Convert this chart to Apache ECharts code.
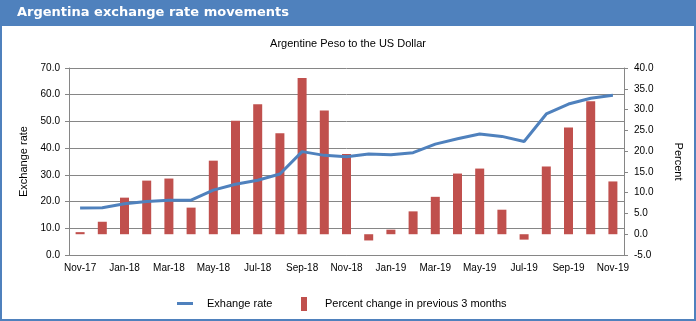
<!DOCTYPE html>
<html>
<head>
<meta charset="utf-8">
<script src="https://cdn.jsdelivr.net/npm/echarts@6/dist/echarts.min.js"></script>
<style>
html,body{margin:0;padding:0;background:#fff;}
#chart{width:696px;height:321px;}
</style>
</head>
<body>
<div id="chart"></div>
<script>
const categories = ['Nov-17','Dec-17','Jan-18','Feb-18','Mar-18','Apr-18','May-18','Jun-18','Jul-18','Aug-18','Sep-18','Oct-18','Nov-18','Dec-18','Jan-19','Feb-19','Mar-19','Apr-19','May-19','Jun-19','Jul-19','Aug-19','Sep-19','Oct-19','Nov-19'];
const exchangeRate = [17.6,17.7,19.2,20.0,20.5,20.5,24.3,26.5,28.0,30.3,38.7,37.3,36.8,37.8,37.5,38.3,41.5,43.5,45.3,44.4,42.5,52.8,56.5,58.7,59.8];
const percentChange = [0.5,3.0,8.8,12.9,13.4,6.4,17.7,27.3,31.3,24.3,37.6,29.8,19.3,-1.5,1.1,5.5,9.0,14.6,15.8,5.9,-1.3,16.3,25.7,32.0,12.7];
const leftTicks = {min:0, max:70, interval:10};
const rightTicks = {min:-5, max:40, interval:5};

const chart = echarts.init(document.getElementById('chart'), null, {renderer:'canvas'});
const font = 'Liberation Sans';
const axisGrey = '#868686';
chart.setOption({
  animation:false,
  backgroundColor:'#fff',
  graphic:[
    {type:'rect', shape:{x:0,y:0,width:696,height:26}, style:{fill:'#4F81BD'}, z:0},
    {type:'rect', shape:{x:1,y:1,width:694,height:319}, style:{fill:null, stroke:'#4F81BD', lineWidth:2}, z:0}
  ],
  title:[
    {text:'Argentina exchange rate movements', left:17, top:6, padding:0,
     textStyle:{color:'#fff', fontFamily:'DejaVu Sans', fontWeight:'bold', fontSize:13}},
    {text:'Argentine Peso to the US Dollar', left:'center', top:38, padding:0,
     textStyle:{color:'#000', fontFamily:font, fontWeight:'normal', fontSize:11}}
  ],
  grid:{left:69, right:72, top:68, bottom:66},
  legend:[
    {data:['Exhange rate'], left:177, top:298, padding:0, icon:'rect', itemWidth:16, itemHeight:3,
     textStyle:{fontFamily:font, fontSize:11, color:'#000', padding:[0,0,0,9]}},
    {data:['Percent change in previous 3 months'], left:301, top:297, padding:0, icon:'rect', itemWidth:6, itemHeight:14,
     textStyle:{fontFamily:font, fontSize:11, color:'#000', padding:[0,0,0,13]}}
  ],
  xAxis:{
    type:'category', data:categories, boundaryGap:true,
    axisLine:{lineStyle:{color:axisGrey}},
    axisTick:{interval:1, length:4, lineStyle:{color:axisGrey}},
    axisLabel:{interval:1, fontFamily:font, fontSize:10, color:'#000', margin:8}
  },
  yAxis:[
    {type:'value', min:leftTicks.min, max:leftTicks.max, interval:leftTicks.interval,
     name:'Exchange rate', nameLocation:'middle', nameGap:34, nameRotate:90,
     nameTextStyle:{fontFamily:font, fontSize:11, color:'#000'},
     axisLine:{show:true, lineStyle:{color:axisGrey}},
     axisTick:{show:true, length:4, lineStyle:{color:axisGrey}},
     axisLabel:{fontFamily:font, fontSize:10, color:'#000', margin:9, formatter:v=>v.toFixed(1)},
     splitLine:{show:true, lineStyle:{color:axisGrey, width:1}}},
    {type:'value', min:rightTicks.min, max:rightTicks.max, interval:rightTicks.interval,
     name:'Percent', nameLocation:'middle', nameGap:49, nameRotate:-90,
     nameTextStyle:{fontFamily:font, fontSize:11, color:'#000'},
     axisLine:{show:true, lineStyle:{color:axisGrey}},
     axisTick:{show:true, length:4, lineStyle:{color:axisGrey}},
     axisLabel:{fontFamily:font, fontSize:10, color:'#000', margin:10, formatter:v=>v.toFixed(1)},
     splitLine:{show:false}}
  ],
  series:[
    {name:'Percent change in previous 3 months', type:'bar', yAxisIndex:1, data:percentChange,
     barWidth:9, itemStyle:{color:'#C0504D'}, z:2},
    {name:'Exhange rate', type:'line', yAxisIndex:0, data:exchangeRate,
     symbol:'none', lineStyle:{color:'#4F81BD', width:3}, itemStyle:{color:'#4F81BD'}, z:3}
  ]
});
</script>
</body>
</html>
